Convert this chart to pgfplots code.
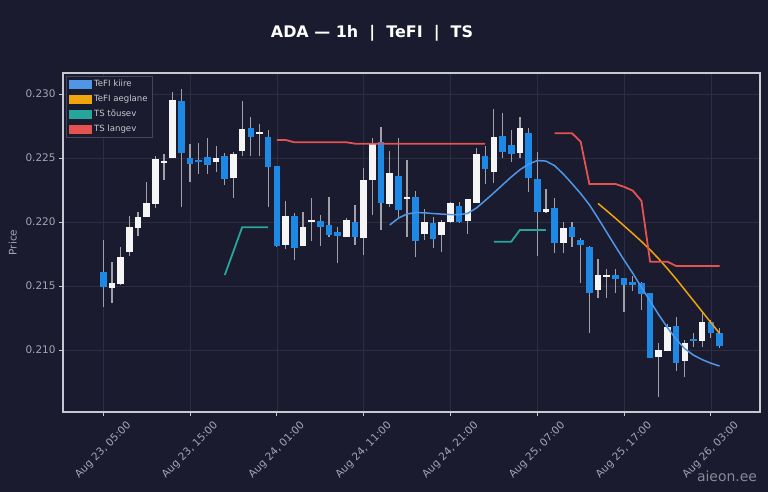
\documentclass[border=0pt]{standalone}
\usepackage{fontspec}
\setmainfont{DejaVu Sans}
\usepackage{pgfplots}
\usepackage{pgfplotstable}
\pgfplotsset{compat=1.18}

\definecolor{bg}{RGB}{26,27,46}
\definecolor{gridc}{RGB}{44,45,66}
\definecolor{framec}{RGB}{200,200,208}
\definecolor{tickc}{RGB}{165,165,178}
\definecolor{upc}{RGB}{245,245,245}
\definecolor{dnc}{RGB}{30,136,229}
\definecolor{wickc}{RGB}{160,160,168}
\definecolor{kiire}{RGB}{80,150,230}
\definecolor{aeglane}{RGB}{240,165,15}
\definecolor{tousev}{RGB}{38,166,154}
\definecolor{langev}{RGB}{228,82,82}
\definecolor{legborder}{RGB}{70,70,90}

% hour index 0 = Aug 23, 05:00
\pgfplotstableread{
h o hi lo c
1 0.21482 0.21685 0.21365 0.21521
2 0.21516 0.21802 0.21508 0.21724
3 0.21768 0.22047 0.21737 0.21958
4 0.21950 0.22081 0.21893 0.22039
5 0.22042 0.22310 0.22040 0.22146
6 0.22141 0.22516 0.22112 0.22492
7 0.22464 0.22529 0.22328 0.22477
8 0.22503 0.23013 0.22497 0.22951
13 0.22466 0.22596 0.22388 0.22497
15 0.22344 0.22550 0.22190 0.22534
16 0.22555 0.22945 0.22518 0.22724
18 0.22687 0.22763 0.22518 0.22698
21 0.21818 0.22164 0.21789 0.22050
23 0.21815 0.22081 0.21812 0.21958
24 0.22005 0.22185 0.21852 0.22013
28 0.21883 0.22029 0.21880 0.22013
30 0.21872 0.22419 0.21742 0.22331
31 0.22328 0.22654 0.22055 0.22607
33 0.22141 0.22555 0.22120 0.22380
35 0.22180 0.22482 0.21885 0.22193
37 0.21906 0.22102 0.21859 0.22003
39 0.21898 0.22016 0.21768 0.22003
40 0.21997 0.22159 0.21995 0.22146
42 0.22008 0.22177 0.21906 0.22177
43 0.22146 0.22576 0.22146 0.22531
45 0.22393 0.22880 0.22302 0.22667
48 0.22536 0.22818 0.22497 0.22737
51 0.22076 0.22258 0.22070 0.22104
53 0.21838 0.21997 0.21755 0.21956
57 0.21469 0.21708 0.21404 0.21583
58 0.21573 0.21630 0.21409 0.21583
64 0.20943 0.21052 0.20635 0.21000
65 0.20995 0.21203 0.20990 0.21182
67 0.20917 0.21078 0.20787 0.21052
69 0.21070 0.21300 0.21026 0.21221
}\upcandles

\pgfplotstableread{
h o hi lo c
0 0.21607 0.21859 0.21339 0.21495
9 0.22945 0.23039 0.22115 0.22542
10 0.22497 0.22612 0.22310 0.22453
11 0.22477 0.22615 0.22372 0.22472
12 0.22508 0.22659 0.22372 0.22443
14 0.22518 0.22536 0.22289 0.22333
17 0.22737 0.22818 0.22516 0.22667
19 0.22664 0.22719 0.22115 0.22430
20 0.22435 0.22440 0.21805 0.21810
22 0.22047 0.22068 0.21703 0.21794
25 0.22008 0.22055 0.21815 0.21964
26 0.21974 0.22198 0.21885 0.21898
27 0.21919 0.21964 0.21682 0.21891
29 0.22000 0.22133 0.21820 0.21885
32 0.22628 0.22745 0.21937 0.22146
34 0.22359 0.22654 0.22034 0.22094
36 0.22198 0.22242 0.21729 0.21854
38 0.21995 0.22042 0.21800 0.21867
41 0.22128 0.22154 0.21995 0.21997
44 0.22516 0.22594 0.22294 0.22411
46 0.22669 0.22849 0.22503 0.22550
47 0.22602 0.22719 0.22466 0.22534
49 0.22693 0.22732 0.22237 0.22346
50 0.22333 0.22550 0.21734 0.22081
52 0.22107 0.22185 0.21755 0.21833
54 0.21958 0.21997 0.21807 0.21885
55 0.21859 0.21872 0.21526 0.21818
56 0.21807 0.21810 0.21130 0.21443
59 0.21583 0.21630 0.21443 0.21552
60 0.21560 0.21560 0.21300 0.21508
61 0.21529 0.21578 0.21464 0.21510
62 0.21521 0.21534 0.21313 0.21438
63 0.21443 0.21443 0.20935 0.20935
66 0.21188 0.21255 0.20836 0.20901
68 0.21083 0.21130 0.21026 0.21073
70 0.21221 0.21234 0.21091 0.21130
71 0.21130 0.21169 0.21013 0.21031
}\dncandles

\pgfplotsset{
  wick/.style={only marks, mark size=0pt,
    mark options={draw opacity=0, fill opacity=0}, forget plot,
    error bars/.cd, y dir=both, y explicit, error mark=none,
    error bar style={color=wickc, line width=1.2bp, draw opacity=1}},
  body/.style={only marks, mark size=0pt,
    mark options={draw opacity=0, fill opacity=0}, forget plot,
    error bars/.cd, y dir=both, y explicit, error mark=none,
    error bar style={color=#1, line width=6.6bp, draw opacity=1}},
}

\begin{document}
\begin{tikzpicture}
\fill[bg] (0,0) rectangle (768bp,492bp);
\useasboundingbox (0,0) rectangle (768bp,492bp);

\begin{axis}[
  at={(63bp,80bp)}, anchor=south west,
  scale only axis,
  width=697bp, height=339bp,
  axis background/.style={fill=bg},
  xmin=-4.64, xmax=75.66,
  ymin=0.20516, ymax=0.23164,
  xtick={0,10,...,70},
  xticklabels={{Aug 23, 05:00},{Aug 23, 15:00},{Aug 24, 01:00},{Aug 24, 11:00},
    {Aug 24, 21:00},{Aug 25, 07:00},{Aug 25, 17:00},{Aug 26, 03:00}},
  ytick={0.210,0.215,0.220,0.225,0.230},
  yticklabel style={/pgf/number format/fixed, /pgf/number format/fixed zerofill,
    /pgf/number format/precision=3},
  /pgf/number format/assume math mode=true,
  scaled y ticks=false,
  tick pos=left,
  tick align=outside,
  major tick length=4bp,
  tick style={color=framec, line width=0.8bp},
  ticklabel style={font=\fontsize{10.5}{12}\selectfont, text=tickc},
  xticklabel style={yshift=-34bp, rotate=45, anchor=center},
  grid=major,
  major grid style={color=gridc, line width=0.6bp},
  axis line style={color=framec, line width=1.2bp},
  ylabel={Price},
  ylabel style={at={(axis description cs:-0.072,0.5)}, anchor=center,
    font=\fontsize{10.5}{12}\selectfont, text=tickc},
  unbounded coords=jump,
  legend image code/.code={\fill[#1] (0bp,-3.5bp) rectangle (21bp,3.5bp);},
  legend style={at={(rel axis cs:0.0043,0.991)}, anchor=north west,
    fill=bg, draw=legborder, line width=0.6bp, text=framec,
    font=\fontsize{8.6}{10}\selectfont, inner xsep=3bp, inner ysep=2bp,
    row sep=3bp, cells={anchor=west}},
]

\addplot[wick] table[x=h, y expr={(\thisrow{hi}+\thisrow{lo})/2},
  y error expr={(\thisrow{hi}-\thisrow{lo})/2}] {\upcandles};
\addplot[wick] table[x=h, y expr={(\thisrow{hi}+\thisrow{lo})/2},
  y error expr={(\thisrow{hi}-\thisrow{lo})/2}] {\dncandles};
\addplot[body=upc] table[x=h, y expr={(\thisrow{o}+\thisrow{c})/2},
  y error expr={max(abs(\thisrow{o}-\thisrow{c})/2,0.00007)}] {\upcandles};
\addplot[body=dnc] table[x=h, y expr={(\thisrow{o}+\thisrow{c})/2},
  y error expr={max(abs(\thisrow{o}-\thisrow{c})/2,0.00007)}] {\dncandles};

% TeFI kiire
\addplot[color=kiire, line width=1.5bp] coordinates {
  (33,0.21977) (34,0.22030) (35,0.22063) (36,0.22073) (37,0.22072)
  (38,0.22066) (39,0.22062) (40,0.22058) (41,0.22057) (42,0.22068)
  (43,0.22110) (44,0.22168) (45,0.22228) (46,0.22290) (47,0.22352)
  (48,0.22408) (49,0.22452) (50,0.22480) (51,0.22476) (52,0.22440)
  (53,0.22375) (54,0.22300) (55,0.22222) (56,0.22135) (57,0.22030)
  (58,0.21920) (59,0.21810) (60,0.21703) (61,0.21600) (62,0.21490)
  (63,0.21382) (64,0.21275) (65,0.21175) (66,0.21085) (67,0.21010)
  (68,0.20960) (69,0.20925) (70,0.20897) (71,0.20875)
};
\addlegendentry{TeFI kiire}

% TeFI aeglane
\addplot[color=aeglane, line width=1.5bp] coordinates {
  (57,0.22145) (58,0.22088) (59,0.22030) (60,0.21970) (61,0.21910)
  (62,0.21848) (63,0.21783) (64,0.21712) (65,0.21635) (66,0.21555)
  (67,0.21470) (68,0.21385) (69,0.21300) (70,0.21215) (71,0.21130)
};
\addlegendentry{TeFI aeglane}

% TS tousev
\addplot[color=tousev, line width=1.8bp] coordinates {
  (14,0.21586) (15,0.21772) (16,0.21959) (17,0.21959) (18,0.21959) (19,0.21959)
  (19.5,nan)
  (45,0.21846) (46,0.21846) (47,0.21846) (48,0.21938) (49,0.21938)
  (50,0.21938) (51,0.21938)
};
\addlegendentry{TS tõusev}

% TS langev
\addplot[color=langev, line width=1.8bp] coordinates {
  (20,0.22641) (21,0.22641) (22,0.22623) (23,0.22623) (24,0.22623)
  (25,0.22623) (26,0.22623) (27,0.22623) (28,0.22623) (29,0.22612)
  (30,0.22612) (31,0.22612) (32,0.22612) (33,0.22612) (34,0.22612)
  (35,0.22612) (36,0.22612) (37,0.22612) (38,0.22612) (39,0.22612)
  (40,0.22612) (41,0.22612) (42,0.22612) (43,0.22612) (44,0.22612)
  (48,nan)
  (52,0.22693) (53,0.22693) (54,0.22693) (55,0.22627) (56,0.22297)
  (57,0.22297) (58,0.22297) (59,0.22297) (60,0.22275) (61,0.22245)
  (62,0.22165) (63,0.21690) (64,0.21690) (65,0.21690) (66,0.21656)
  (67,0.21656) (68,0.21656) (69,0.21656) (70,0.21656) (71,0.21656)
};
\addlegendentry{TS langev}
\end{axis}

\node[text=white, font=\fontsize{16}{19}\selectfont\bfseries] at (372bp,459bp)
  {ADA — 1h\ \ |\ \ TeFI\ \ |\ \ TS};
\node[text=tickc, opacity=0.8, font=\fontsize{14}{16}\selectfont] at (727bp,16bp) {aieon.ee};
\end{tikzpicture}
\end{document}
